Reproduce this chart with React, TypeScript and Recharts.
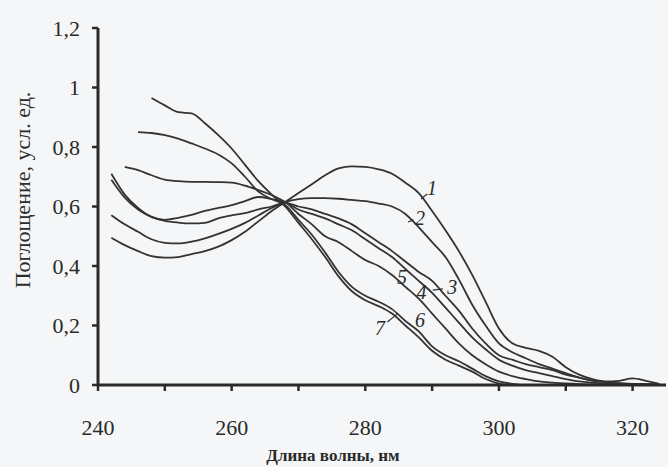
import React from "react";
import {
  LineChart,
  Line,
  XAxis,
  YAxis,
  Label,
  ReferenceDot,
  ReferenceLine,
} from "recharts";

// длина волны, нм (шаг 2 нм)
const wavelengths = [
  242, 244, 246, 248, 250, 252, 254, 256, 258, 260, 262, 264, 266, 268, 270,
  272, 274, 276, 278, 280, 282, 284, 286, 288, 290, 292, 294, 296, 298, 300,
  302, 304, 306, 308, 310, 312, 314, 316, 318, 320, 322, 324,
];

const curve1 = [
  0.495, 0.47, 0.45, 0.433, 0.428, 0.43, 0.44, 0.45, 0.465, 0.487, 0.515, 0.55,
  0.585, 0.615, 0.645, 0.675, 0.705, 0.728, 0.735, 0.733, 0.725, 0.71, 0.68,
  0.645, 0.585, 0.52, 0.45, 0.37, 0.28, 0.19, 0.14, 0.125, 0.115, 0.095, 0.06,
  0.035, 0.02, 0.012, 0.014, 0.022, 0.014, 0.004,
];
const curve2 = [
  0.571, 0.54, 0.515, 0.49, 0.478, 0.476, 0.482, 0.493, 0.508, 0.525, 0.545,
  0.57, 0.595, 0.615, 0.625, 0.628, 0.628, 0.626, 0.622, 0.618, 0.61, 0.6,
  0.575, 0.53, 0.48, 0.43, 0.355, 0.27, 0.2, 0.14, 0.11, 0.09, 0.07, 0.055,
  0.04, 0.025, 0.015, 0.01, 0.006, 0.004, 0.003, 0.002,
];
const curve3 = [
  0.69, 0.63, 0.59, 0.565, 0.552, 0.546, 0.543, 0.545, 0.56, 0.57, 0.578, 0.59,
  0.6, 0.612, 0.6, 0.59, 0.575, 0.56, 0.54, 0.51, 0.48, 0.45, 0.415, 0.38, 0.35,
  0.3, 0.25, 0.19, 0.14, 0.1, 0.085, 0.07, 0.06, 0.05, 0.035, 0.025, 0.015,
  0.01, 0.005, 0.003, 0.002, 0.001,
];
const curve4 = [
  0.71, 0.64, 0.595, 0.565, 0.555, 0.562, 0.572, 0.585, 0.595, 0.605, 0.618,
  0.632, 0.625, 0.615, 0.59, 0.575, 0.56, 0.54, 0.52, 0.49, 0.46, 0.43, 0.39,
  0.35, 0.31, 0.26, 0.21, 0.16, 0.12, 0.085, 0.065, 0.05, 0.04, 0.03, 0.02,
  0.012, 0.008, 0.005, 0.003, 0.002, 0.001, 0,
];
const curve5 = [
  null, 0.733, 0.722, 0.705, 0.69, 0.685, 0.683, 0.683, 0.682, 0.68, 0.67,
  0.655, 0.638, 0.615, 0.575, 0.54, 0.5, 0.48, 0.45, 0.42, 0.4, 0.37, 0.33,
  0.29, 0.24, 0.19, 0.14, 0.1, 0.07, 0.045, 0.03, 0.02, 0.012, 0.008, 0.005,
  0.003, 0.002, 0.001, 0, 0, 0, 0,
];
const curve6 = [
  null, null, 0.85, 0.847, 0.84, 0.828, 0.812, 0.795, 0.775, 0.745, 0.7, 0.65,
  0.625, 0.605, 0.555, 0.505, 0.445, 0.38, 0.33, 0.3, 0.28, 0.255, 0.215, 0.18,
  0.13, 0.1, 0.08, 0.055, 0.03, 0.012, 0.004, 0, 0, 0, 0, 0, 0, 0, 0, 0, 0, 0,
];
const curve7 = [
  null, null, null, 0.965, 0.94, 0.917, 0.913, 0.88, 0.84, 0.795, 0.74, 0.685,
  0.64, 0.6, 0.545, 0.49, 0.43, 0.365, 0.315, 0.285, 0.265, 0.24, 0.2, 0.16,
  0.115, 0.085, 0.065, 0.045, 0.02, 0.005, 0, 0, 0, 0, 0, 0, 0, 0, 0, 0, 0, 0,
];

const seriesKeys = ["c1", "c2", "c3", "c4", "c5", "c6", "c7"];
const seriesValues = [curve1, curve2, curve3, curve4, curve5, curve6, curve7];

const xTicks = [240, 250, 260, 270, 280, 290, 300, 310, 320];
const yTicks = [0, 0.2, 0.4, 0.6, 0.8, 1, 1.2];

// номера кривых
const curveLabels = [
  { text: "1", x: 290.0, y: 0.662 },
  { text: "2", x: 288.2, y: 0.561 },
  { text: "3", x: 293.0, y: 0.329 },
  { text: "4", x: 288.4, y: 0.313 },
  { text: "5", x: 285.5, y: 0.363 },
  { text: "6", x: 288.2, y: 0.218 },
  { text: "7", x: 282.2, y: 0.192 },
];

const leaders = [
  [{ x: 289.25, y: 0.642 }, { x: 288.35, y: 0.625 }],
  [{ x: 287.2, y: 0.555 }, { x: 286.4, y: 0.548 }],
  [{ x: 291.6, y: 0.323 }, { x: 290.1, y: 0.319 }],
  [{ x: 283.3, y: 0.212 }, { x: 284.8, y: 0.239 }],
];

const data = wavelengths.map((wl, i) => {
  const row: Record<string, number | null> = { wl };
  seriesKeys.forEach((k, j) => {
    row[k] = seriesValues[j][i];
  });
  return row;
});

const INK = "#2a2a2a";
const FONT = "'Liberation Serif', 'DejaVu Serif', serif";

export default function App() {
  return (
    <div
      style={{
        position: "absolute",
        left: 0,
        top: 0,
        width: 668,
        height: 467,
        background: "#f4f6f7",
        fontFamily: FONT,
      }}
    >
      <LineChart
        width={668}
        height={467}
        data={data}
        margin={{ top: 28, right: 2, bottom: 0, left: 0 }}
      >
        <XAxis
          dataKey="wl"
          type="number"
          domain={[240, 325]}
          ticks={xTicks}
          tickFormatter={(v: number) => (v % 20 === 0 ? String(v) : "")}
          height={82}
          axisLine={{ stroke: INK, strokeWidth: 3 }}
          tickLine={{ stroke: INK, strokeWidth: 2.5 }}
          tickSize={6}
          tickMargin={28}
          tick={{ fill: INK, fontSize: 22, fontFamily: FONT }}
          allowDataOverflow
        >
          <Label
            content={() => (
              <text
                x={333}
                y={461}
                textAnchor="middle"
                fill={INK}
                fontSize={17}
                fontWeight="bold"
                fontFamily={FONT}
              >
                Длина волны, нм
              </text>
            )}
          />
        </XAxis>
        <YAxis
          type="number"
          domain={[0, 1.2]}
          ticks={yTicks}
          width={98}
          axisLine={{ stroke: INK, strokeWidth: 3 }}
          tickLine={{ stroke: INK, strokeWidth: 2.5 }}
          tickSize={6}
          tickMargin={12}
          tickFormatter={(v: number) => String(v).replace(".", ",")}
          tick={{ fill: INK, fontSize: 22, fontFamily: FONT }}
        >
          <Label
            content={() => (
              <text
                x={22}
                y={190}
                transform="rotate(-90, 22, 190)"
                textAnchor="middle"
                dominantBaseline="central"
                fill={INK}
                fontSize={22}
                fontFamily={FONT}
              >
                Поглощение, усл. ед.
              </text>
            )}
          />
        </YAxis>
        {seriesKeys.map((k) => (
          <Line
            key={k}
            dataKey={k}
            type="monotone"
            stroke="#333333"
            strokeWidth={1.8}
            dot={false}
            isAnimationActive={false}
          />
        ))}
        {leaders.map((seg, i) => (
          <ReferenceLine
            key={`ld-${i}`}
            segment={seg}
            stroke="#333333"
            strokeWidth={1.2}
          />
        ))}
        {curveLabels.map((l) => (
          <ReferenceDot
            key={`lb-${l.text}`}
            x={l.x}
            y={l.y}
            r={0}
            fill="none"
            stroke="none"
            label={{
              value: l.text,
              position: "center",
              fill: INK,
              fontSize: 20,
              fontFamily: FONT,
              fontStyle: "italic",
            }}
          />
        ))}
      </LineChart>
    </div>
  );
}
